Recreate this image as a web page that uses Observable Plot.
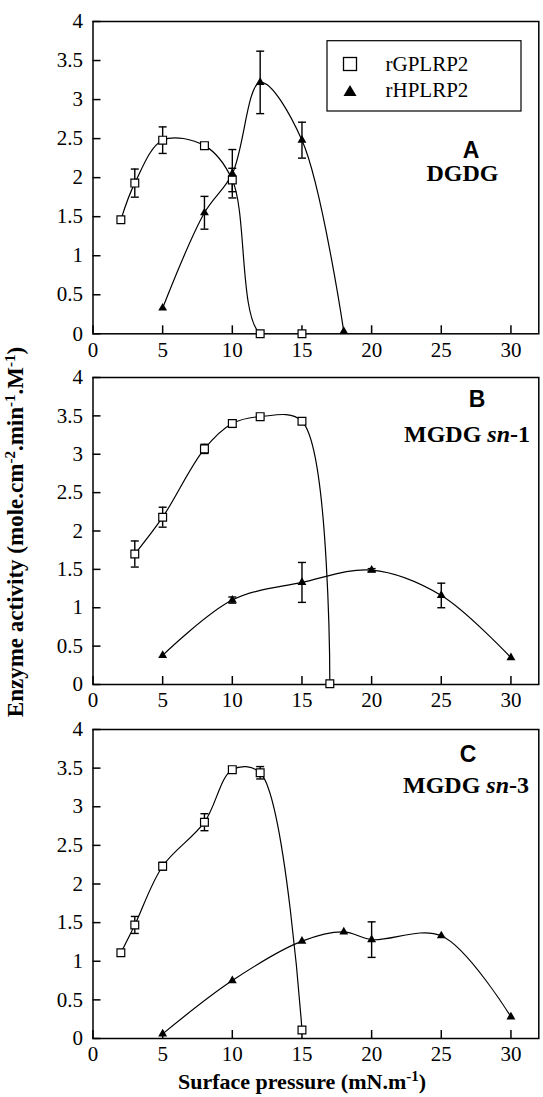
<!DOCTYPE html>
<html><head><meta charset="utf-8">
<script src="https://cdn.jsdelivr.net/npm/d3@7"></script>
<script src="https://cdn.jsdelivr.net/npm/@observablehq/plot@0.6"></script>
<style>
body{margin:0;background:#fff;}
#fig{position:relative;width:543px;height:1097px;overflow:hidden;font-family:"Liberation Serif",serif;background:#fff;}
#fig svg{position:absolute;left:0;overflow:visible;max-width:none;}
#fig svg text{font-family:"Liberation Serif",serif;}
#fig svg g[aria-label$="tick label"] text{font-size:21px !important;font-family:"Liberation Serif",serif !important;fill:#000;}
</style></head><body><div id="fig"></div>
<script>
// ---- tick labels / names ----
const xTicks = [0, 5, 10, 15, 20, 25, 30];
const yTicks = [0, 0.5, 1, 1.5, 2, 2.5, 3, 3.5, 4];
const seriesNames = ["rGPLRP2", "rHPLRP2"];
const panelLetters = ["A", "B", "C"];
const panelLipids = [["DGDG", "", ""], ["MGDG ", "sn", "-1"], ["MGDG ", "sn", "-3"]];

// ---- Panel A: DGDG ----
const gpA_x = [2, 3, 5, 8, 10, 12, 15];
const gpA_y = [1.46, 1.93, 2.48, 2.41, 1.97, 0, 0];
const gpA_e = [0, 0.18, 0.17, 0, 0.15, 0, 0];
const hpA_x = [5, 8, 10, 12, 15, 18];
const hpA_y = [0.33, 1.55, 2.05, 3.22, 2.48, 0.03];
const hpA_e = [0, 0.21, 0.31, 0.40, 0.23, 0];

// ---- Panel B: MGDG sn-1 ----
const gpB_x = [3, 5, 8, 10, 12, 15, 17];
const gpB_y = [1.70, 2.18, 3.07, 3.40, 3.49, 3.43, 0.01];
const gpB_e = [0.17, 0.13, 0.06, 0.05, 0.02, 0.03, 0];
const hpB_x = [5, 10, 15, 20, 25, 30];
const hpB_y = [0.38, 1.10, 1.33, 1.49, 1.16, 0.35];
const hpB_e = [0, 0.04, 0.26, 0.02, 0.16, 0];

// ---- Panel C: MGDG sn-3 ----
const gpC_x = [2, 3, 5, 8, 10, 12, 15];
const gpC_y = [1.11, 1.47, 2.23, 2.80, 3.48, 3.44, 0.11];
const gpC_e = [0, 0.11, 0.05, 0.11, 0.02, 0.08, 0];
const hpC_x = [5, 10, 15, 18, 20, 25, 30];
const hpC_y = [0.06, 0.75, 1.26, 1.38, 1.28, 1.33, 0.28];
const hpC_e = [0, 0, 0, 0, 0.23, 0, 0];

const rows = (xs, ys, es) => xs.map((x, i) => ({x, y: ys[i], e: es[i]}));

const panels = [
  {top: 21, bottom: 333.3, gp: rows(gpA_x, gpA_y, gpA_e), hp: rows(hpA_x, hpA_y, hpA_e)},
  {top: 377.3, bottom: 684.3, gp: rows(gpB_x, gpB_y, gpB_e), hp: rows(hpB_x, hpB_y, hpB_e)},
  {top: 729, bottom: 1038, gp: rows(gpC_x, gpC_y, gpC_e), hp: rows(hpC_x, hpC_y, hpC_e)}
];

const cap = {draw(ctx) { ctx.moveTo(-4, 0); ctx.lineTo(4, 0); }};
const fig = document.getElementById("fig");
const tickFont = {fontFamily: "Liberation Serif", fontSize: 21, fill: "black"};

panels.forEach(p => {
  const mt = 30, mb = 40;
  const h = p.bottom - p.top + mt + mb;
  const errs = [...p.gp, ...p.hp].filter(d => d.e > 0);
  const chart = Plot.plot({
    width: 543, height: h,
    marginTop: mt, marginBottom: mb, marginLeft: 92.5, marginRight: 4.7,
    style: {fontFamily: "Liberation Serif", fontSize: "21px", color: "black", background: "transparent", overflow: "visible"},
    x: {domain: [0, 32]},
    y: {domain: [0, 4]},
    marks: [
      Plot.axisX({ticks: xTicks, tickSize: -8, tickPadding: 16, tickFormat: d => String(d), label: null, strokeWidth: 1.5, stroke: "black", ...tickFont}),
      Plot.axisY({ticks: yTicks, tickSize: -8, tickPadding: 18, tickFormat: d => String(d), label: null, strokeWidth: 1.5, stroke: "black", ...tickFont}),
      Plot.frame({stroke: "black", strokeWidth: 1.5}),
      Plot.ruleX(errs, {x: "x", y1: d => d.y - d.e, y2: d => d.y + d.e, stroke: "black", strokeWidth: 1.4}),
      Plot.dot(errs, {x: "x", y: d => d.y + d.e, symbol: cap, stroke: "black", fill: "none", strokeWidth: 1.4}),
      Plot.dot(errs, {x: "x", y: d => d.y - d.e, symbol: cap, stroke: "black", fill: "none", strokeWidth: 1.4}),
      Plot.line(p.gp, {x: "x", y: "y", curve: "catmull-rom", stroke: "black", strokeWidth: 1.2, clip: true}),
      Plot.line(p.hp, {x: "x", y: "y", curve: "catmull-rom", stroke: "black", strokeWidth: 1.2, clip: true}),
      Plot.dot(p.gp, {x: "x", y: "y", symbol: "square", r: 4.4, fill: "white", stroke: "black", strokeWidth: 1.2}),
      Plot.dot(p.hp, {x: "x", y: "y", symbol: "triangle", r: 3.3, fill: "black"})
    ]
  });
  chart.style.top = (p.top - mt) + "px";
  d3.select(chart).attr("font-family", "Liberation Serif").attr("font-size", 21)
    .selectAll("text").attr("font-family", "Liberation Serif").attr("font-size", 21).style("font-size", "21px");
  fig.appendChild(chart);
});

// ---- overlay: annotations, legend, axis titles ----
const ov = d3.select(fig).append("svg").attr("width", 543).attr("height", 1097).style("top", "0px");
const letterPos = [[471, 157.5], [477, 406.7], [468, 762]];
const lipidPos = [[462.5, 181, "middle"], [530, 441.7, "end"], [529, 793, "end"]];
panelLetters.forEach((L, i) => {
  ov.append("text").attr("x", letterPos[i][0]).attr("y", letterPos[i][1])
    .attr("text-anchor", "middle").style("font-family", "'Liberation Sans', Arial, sans-serif")
    .attr("font-weight", "bold").attr("font-size", 23).text(L);
  const t = ov.append("text").attr("x", lipidPos[i][0]).attr("y", lipidPos[i][1])
    .attr("text-anchor", lipidPos[i][2]).style("font-family", "'Liberation Serif', serif")
    .attr("font-weight", "bold").attr("font-size", 24);
  const parts = panelLipids[i];
  t.append("tspan").text(parts[0]);
  if (parts[1]) t.append("tspan").attr("font-style", "italic").text(parts[1]);
  if (parts[2]) t.append("tspan").text(parts[2]);
});

// legend
const lg = ov.append("g");
lg.append("rect").attr("x", 327).attr("y", 40.7).attr("width", 194).attr("height", 70.3)
  .attr("fill", "white").attr("stroke", "black").attr("stroke-width", 1.2);
lg.append("rect").attr("x", 343.5).attr("y", 57.5).attr("width", 13).attr("height", 13)
  .attr("fill", "white").attr("stroke", "black").attr("stroke-width", 1.3);
lg.append("path").attr("d", "M350,85 L356.5,96 L343.5,96 Z").attr("fill", "black");
seriesNames.forEach((s, i) => {
  lg.append("text").attr("x", 385.5).attr("y", i === 0 ? 71 : 96.7)
    .style("font-family", "'Liberation Serif', serif").attr("font-size", 21).text(s);
});

// y title
const yt = ov.append("text").attr("transform", "translate(23,532) rotate(-90)")
  .attr("text-anchor", "middle").style("font-family", "'Liberation Serif', serif")
  .attr("font-weight", "bold").attr("font-size", 23);
function sup(t, txt) { t.append("tspan").attr("dy", -8).attr("font-size", 15).text(txt); }
function norm(t, txt) { t.append("tspan").attr("dy", 8).text(txt); }
yt.append("tspan").text("Enzyme activity (mole.cm");
sup(yt, "-2"); norm(yt, ".min"); sup(yt, "-1"); norm(yt, ".M"); sup(yt, "-1"); norm(yt, ")");

// x title
const xt = ov.append("text").attr("x", 302).attr("y", 1089)
  .attr("text-anchor", "middle").style("font-family", "'Liberation Serif', serif")
  .attr("font-weight", "bold").attr("font-size", 22);
xt.append("tspan").text("Surface pressure (mN.m");
sup(xt, "-1"); norm(xt, ")");
</script></body></html>
